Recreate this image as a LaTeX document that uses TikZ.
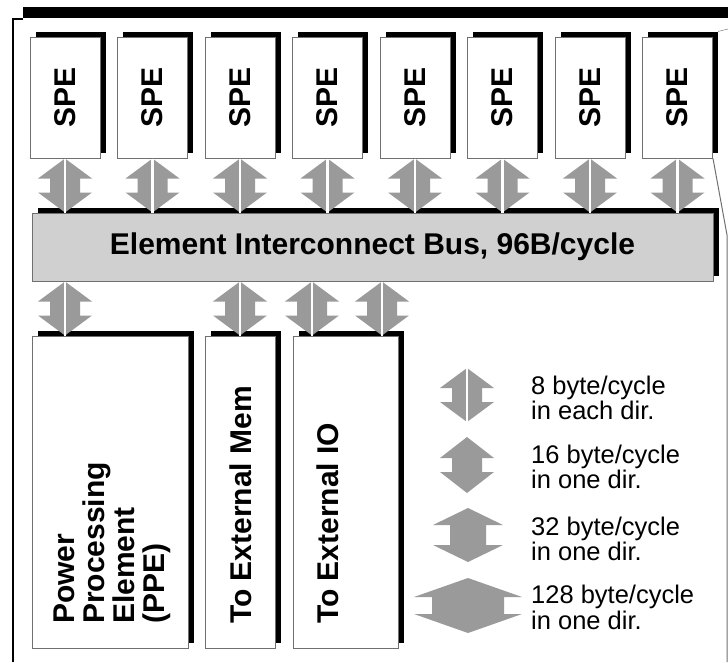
\documentclass[tikz,border=0pt]{standalone}
\usepackage{fontspec}
\setmainfont{Liberation Sans}
\usepackage{tikz}
\usetikzlibrary{positioning,calc,shadows}

\definecolor{busgray}{HTML}{D0D0D0}
\definecolor{linkgray}{HTML}{9A9A9A}
\definecolor{edgegray}{HTML}{707070}

% double headed link: top, bottom, half width, shaft half width, head height
\newcommand{\linkshape}[5]{%
  \fill[linkgray] (#1) -- ++(-#3,#5) -- ++({#3-#4},0) -- ($(#1 |- #2)+(-#4,-#5)$)
    -- ++({#4-#3},0) -- (#1 |- #2) -- ++(#3,-#5) -- ++({#4-#3},0)
    -- ($(#1)+(#4,#5)$) -- ++({#3-#4},0) -- cycle;}
% 8 byte/cycle link, split in two halves
\newcommand{\eachdir}[2]{%
  \linkshape{#1}{#2}{27}{15}{20}
  \draw[white, line width=2.5pt] (#1) -- (#1 |- #2);}

\begin{document}
\begin{tikzpicture}[x=1pt,y=-1pt,
    boxshadow/.style={general shadow={fill=black, shadow xshift=5.5pt, shadow yshift=5pt}},
    unit/.style={draw=edgegray, line width=1pt, fill=white, inner sep=0pt, boxshadow,
      font=\fontsize{30}{30}\selectfont\bfseries},
    spebox/.style={unit, minimum width=70, minimum height=121},
    sidetext/.style={rotate=90, anchor=west, align=left, inner sep=0pt,
      font=\fontsize{30}{30}\selectfont\bfseries},
    keytext/.style={anchor=west, align=left, inner sep=0pt,
      font=\fontsize{25.5}{25.5}\selectfont}]
  \useasboundingbox (0,0) rectangle (728,662);

  % frame
  \fill (23,7) rectangle (728,18);
  \draw[line width=1.5pt] (13,662) -- (13,19) -- (23,19);

  % SPEs
  \node[spebox] (spe1) at (65,97.5) {\rotatebox{90}{SPE}};
  \node[spebox] (spe2) at (152.5,97.5) {\rotatebox{90}{SPE}};
  \node[spebox] (spe3) at (240,97.5) {\rotatebox{90}{SPE}};
  \node[spebox] (spe4) at (327.5,97.5) {\rotatebox{90}{SPE}};
  \node[spebox] (spe5) at (415,97.5) {\rotatebox{90}{SPE}};
  \node[spebox] (spe6) at (502.5,97.5) {\rotatebox{90}{SPE}};
  \node[spebox] (spe7) at (590,97.5) {\rotatebox{90}{SPE}};
  \node[spebox] (spe8) at (677.5,97.5) {\rotatebox{90}{SPE}};

  \draw[edgegray] ($(spe8.north east)+(5,-5)$) -- (728,29);
  \draw[edgegray, line width=1pt] (spe8.south east) -- (727,235) -- (727,662);

  % bus
  \node[unit, fill=busgray, minimum width=681, minimum height=68] (bus) at (372.5,247)
    {Element Interconnect Bus, 96B/cycle};

  % lower units
  \node[unit, minimum width=156, minimum height=312] (ppe) at (110,492) {};
  \node[unit, minimum width=70, minimum height=312] (mem) at (240,492) {};
  \node[unit, minimum width=105, minimum height=312] (io) at (345.5,492) {};
  \node[sidetext] (ppetext) at (112,624) {Power\\Processing\\Element\\(PPE)};
  \node[sidetext] (memtext) at (241,624) {To External Mem};
  \node[sidetext] (iotext) at (327.5,624) {To External IO};

  % links SPE - bus
  \eachdir{spe1.south}{bus.north}
  \eachdir{spe2.south}{bus.north}
  \eachdir{spe3.south}{bus.north}
  \eachdir{spe4.south}{bus.north}
  \eachdir{spe5.south}{bus.north}
  \eachdir{spe6.south}{bus.north}
  \eachdir{spe7.south}{bus.north}
  \eachdir{spe8.south}{bus.north}

  % links bus - lower units
  \coordinate (ppeport) at (spe1 |- bus.south);
  \coordinate (memport) at (mem |- bus.south);
  \coordinate (ioport1) at ($(io |- bus.south)+(-33.5,0)$);
  \coordinate (ioport2) at ($(io |- bus.south)+(36.5,0)$);
  \eachdir{ppeport}{ppe.north}
  \eachdir{memport}{mem.north}
  \eachdir{ioport1}{io.north}
  \eachdir{ioport2}{io.north}

  % key
  \coordinate (k1t) at (467,368); \coordinate (k1b) at (467,422);
  \coordinate (k2t) at (467,437); \coordinate (k2b) at (467,493);
  \coordinate (k3t) at (468,508); \coordinate (k3b) at (468,562);
  \coordinate (k4t) at (468,578); \coordinate (k4b) at (468,633);
  \eachdir{k1t}{k1b}
  \linkshape{k2t}{k2b}{27}{15}{21}
  \linkshape{k3t}{k3b}{35}{18}{17}
  \linkshape{k4t}{k4b}{54}{36}{19}
  \node[keytext] (k1text) at (531,398) {8 byte/cycle\\in each dir.};
  \node[keytext] (k2text) at (531,467) {16 byte/cycle\\in one dir.};
  \node[keytext] (k3text) at (531,539) {32 byte/cycle\\in one dir.};
  \node[keytext] (k4text) at (531,607.5) {128 byte/cycle\\in one dir.};
\end{tikzpicture}
\end{document}
